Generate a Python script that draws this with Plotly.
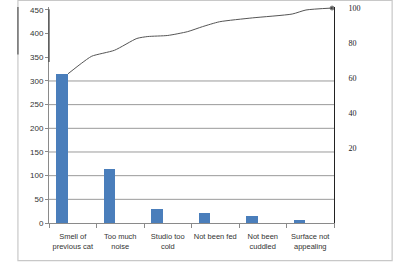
import plotly.graph_objects as go

categories = ["Smell of<br>previous cat", "Too much<br>noise", "Studio too<br>cold",
              "Not been fed", "Not been<br>cuddled", "Surface not<br>appealing"]
counts = [315, 115, 30, 22, 14, 7]

# cumulative percentage curve (x in category-slot units)
cum_x = [0.40, 0.69, 0.90, 1.38, 1.85, 2.08, 2.50, 2.92, 3.23, 3.59, 4.28, 5.12, 5.41, 5.96]
cum_y = [62.6, 68.7, 72.6, 76.0, 82.7, 83.8, 84.4, 86.6, 89.4, 92.2, 94.4, 96.6, 98.9, 100.0]

left_ticks = [0, 50, 100, 150, 200, 250, 300, 350, 400, 450]
grid_levels = [50, 100, 150, 200, 250, 300]
right_ticks = [20, 40, 60, 80, 100]

fig = go.Figure()
fig.add_trace(go.Bar(x=categories, y=counts, marker_color="#4A7EBB",
                     marker_line_width=0, width=0.24, offset=-0.35,
                     xaxis="x", yaxis="y", showlegend=False))
sizes = [0] * (len(cum_x) - 1) + [4]
fig.add_trace(go.Scatter(x=cum_x, y=cum_y, mode="lines+markers",
                         line=dict(color="#555555", width=1, shape="spline", smoothing=0.6),
                         marker=dict(size=sizes, color="#222222"),
                         xaxis="x2", yaxis="y2", showlegend=False, cliponaxis=False))

shapes = []
for g in grid_levels:
    shapes.append(dict(type="line", xref="paper", yref="y", x0=0, x1=1, y0=g, y1=g,
                       line=dict(color="#9a9a9a", width=1), layer="below"))
# outer chart frame
shapes.append(dict(type="rect", xref="paper", yref="paper", x0=-0.109, x1=1.204,
                   y0=-0.174, y1=1.03, line=dict(color="#c8c8c8", width=1.2)))
shapes.append(dict(type="line", xref="paper", yref="paper", x0=-0.109, x1=-0.109,
                   y0=0.78, y1=1.0, line=dict(color="#555555", width=1.2)))
shapes.append(dict(type="line", xref="paper", yref="paper", x0=0, x1=0,
                   y0=0.745, y1=0.99, line=dict(color="#444444", width=1.2)))

fig.update_layout(
    width=400, height=272,
    margin=dict(l=49, r=66, t=4, b=49),
    paper_bgcolor="white", plot_bgcolor="white",
    bargap=0,
    shapes=shapes,
    xaxis=dict(type="category", range=[-0.5, 5.5], showgrid=False,
               showline=True, linecolor="#8a8a8a", linewidth=1,
               ticks="outside", ticklen=4, tickcolor="#8a8a8a", tickson="boundaries",
               tickangle=0, ticklabelstandoff=6,
               tickfont=dict(family="Liberation Sans", size=7.5, color="#333333")),
    xaxis2=dict(overlaying="x", range=[0, 6], visible=False),
    yaxis=dict(range=[0, 456.25], tickvals=left_ticks, showgrid=False,
               showline=True, linecolor="#8a8a8a", linewidth=1,
               ticks="outside", ticklen=3, tickcolor="#8a8a8a",
               tickfont=dict(family="Liberation Sans", size=8, color="#333333"),
               zeroline=False),
    yaxis2=dict(overlaying="y", side="right", range=[-22.3, 100.6], tickvals=right_ticks,
                showgrid=False, zeroline=False, showline=True, linecolor="#222222",
                linewidth=1, ticks="", ticklabelstandoff=12,
                tickfont=dict(family="Liberation Serif", size=8, color="#222222")),
)

fig.write_html("out.html")
